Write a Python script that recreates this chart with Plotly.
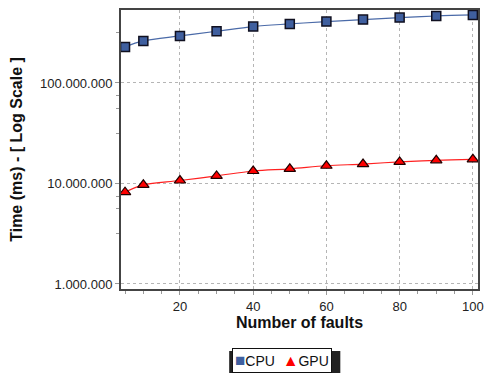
import plotly.graph_objects as go

faults = [5, 10, 20, 30, 40, 50, 60, 70, 80, 90, 100]
cpu_ms = [2.28e8, 2.62e8, 2.94e8, 3.27e8, 3.64e8, 3.87e8, 4.08e8, 4.27e8, 4.47e8, 4.64e8, 4.75e8]
gpu_ms = [8.2e6, 9.7e6, 1.07e7, 1.19e7, 1.33e7, 1.40e7, 1.50e7, 1.56e7, 1.64e7, 1.70e7, 1.74e7]

series_names = ["CPU", "GPU"]
series_colors = ["#3f5f9f", "#ff0000"]

y_tickvals = [1e6, 1e7, 1e8]
y_ticktext = ["1.000.000", "10.000.000", "100.000.000"]
x_tickvals = [20, 40, 60, 80, 100]

minor_y = []
for k in range(5, 9):
    for f in (0.5, 0.75, 0.875):
        minor_y.append(10 ** (k + f))

FONT = "Liberation Sans, Arial, Helvetica, sans-serif"

fig = go.Figure()
fig.add_trace(go.Scatter(
    x=faults, y=cpu_ms, name=series_names[0], mode="lines+markers",
    line=dict(color="#4a6aa8", width=1.2, shape="spline"),
    marker=dict(symbol="square", size=9, color=series_colors[0],
                line=dict(color="#101020", width=1.5)),
))
fig.add_trace(go.Scatter(
    x=faults, y=gpu_ms, name=series_names[1], mode="lines+markers",
    line=dict(color="#ff2020", width=1.2, shape="spline"),
    marker=dict(symbol="triangle-up", size=10, color=series_colors[1],
                line=dict(color="#200000", width=1.2)),
))

axis_common = dict(
    showline=True, linecolor="#444444", linewidth=2, mirror=True,
    showgrid=True, gridcolor="#b5b5b5", gridwidth=1, griddash="3px,3px",
    ticks="outside", ticklen=4, tickcolor="#999999", tickwidth=1,
    zeroline=False,
    tickfont=dict(family=FONT, size=13, color="#222222"),
)

fig.update_xaxes(
    **axis_common,
    range=[3.9, 101.4],
    tickmode="array", tickvals=x_tickvals,
    minor=dict(dtick=5, tick0=0, ticks="outside", ticklen=3, tickcolor="#999999", showgrid=False),
    title=dict(text="<b>Number of faults</b>", font=dict(family=FONT, size=16, color="#111111"), standoff=4),
)
fig.update_yaxes(
    **axis_common,
    type="log",
    range=[5.950, 8.726],
    tickmode="array", tickvals=y_tickvals, ticktext=y_ticktext,
    minor=dict(tickmode="array", tickvals=minor_y, ticks="outside", ticklen=3, tickcolor="#999999", showgrid=False),
    title=dict(text="<b>Time (ms) - [ Log Scale ]</b>", font=dict(family=FONT, size=16, color="#111111"), standoff=14),
)

legend_text = (
    f"<span style='color:{series_colors[0]};font-size:17px'>■</span>{series_names[0]}  "
    f"<span style='color:{series_colors[1]};font-size:16px'>▲</span>{series_names[1]}"
)

# legend box drop shadow + box
fig.add_shape(type="rect", xref="paper", yref="paper",
              x0=(231 - 121) / 363, x1=(344 - 121) / 363,
              y0=(289 - 375) / 279, y1=(289 - 351) / 279,
              fillcolor="#222222", line=dict(width=0), layer="above")
fig.add_annotation(
    text=legend_text, showarrow=False,
    xref="paper", yref="paper",
    x=(284.5 - 121) / 363, y=(289 - 360) / 279,
    xanchor="center", yanchor="middle",
    font=dict(family=FONT, size=14, color="#111111"),
    bgcolor="white", bordercolor="#111111", borderwidth=1, borderpad=2,
)

fig.update_layout(
    width=490, height=373,
    margin=dict(l=121, r=6, t=10, b=84),
    paper_bgcolor="white", plot_bgcolor="white",
    separators=",.",
    showlegend=False,
)

fig.write_html("out.html", config={"displayModeBar": False},
               post_script="document.body.style.margin='0';document.body.style.padding='0';")
